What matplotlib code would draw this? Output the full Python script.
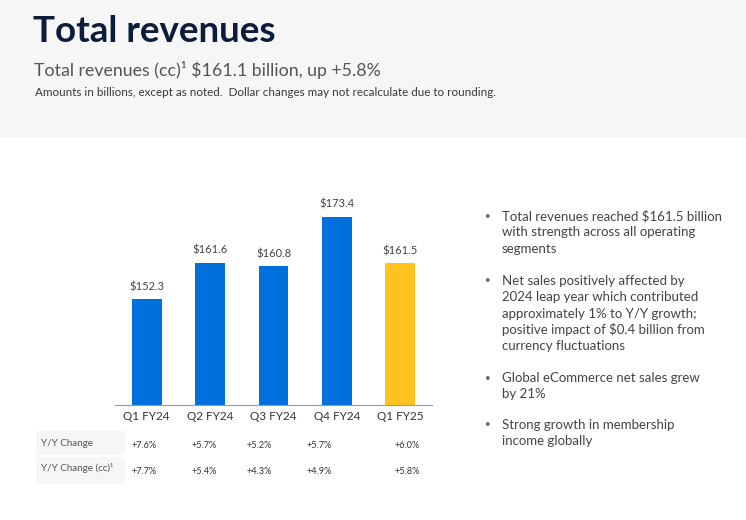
import matplotlib
matplotlib.use("Agg")
import matplotlib.pyplot as plt
from matplotlib.patches import Rectangle

plt.rcParams['font.family'] = ['Lato', 'DejaVu Sans']

categories = ["Q1 FY24", "Q2 FY24", "Q3 FY24", "Q4 FY24", "Q1 FY25"]
revenues = [152.3, 161.6, 160.8, 173.4, 161.5]
value_labels = ["$152.3", "$161.6", "$160.8", "$173.4", "$161.5"]
yy_change = ["+7.6%", "+5.7%", "+5.2%", "+5.7%", "+6.0%"]
yy_change_cc = ["+7.7%", "+5.4%", "+4.3%", "+4.9%", "+5.8%"]
row_labels = ["Y/Y Change", "Y/Y Change (cc)\u00b9"]
bullets = [
    ["Total revenues reached $161.5 billion", "with strength across all operating", "segments"],
    ["Net sales positively affected by", "2024 leap year which contributed",
     "approximately 1% to Y/Y growth;", "positive impact of $0.4 billion from", "currency fluctuations"],
    ["Global eCommerce net sales grew", "by 21%"],
    ["Strong growth in membership", "income globally"],
]

W, H = 746, 520
fig = plt.figure(figsize=(W / 100, H / 100), dpi=100)
fig.patch.set_facecolor("white")

def fx(x):
    return x / W

def fy(y):
    return 1 - y / H

# header band
fig.patches.append(Rectangle((0, fy(137)), 1, 137 / H, transform=fig.transFigure,
                             facecolor="#f6f6f6", edgecolor="none", zorder=0))

fig.text(fx(33), fy(31), "Total revenues", fontsize=26.5, fontweight="bold",
         color="#0b1c3c", va="center", ha="left")
fig.text(fx(34), fy(70), "Total revenues (cc)\u00b9 $161.1 billion, up +5.8%", fontsize=12.8,
         color="#555555", va="center", ha="left")
fig.text(fx(35), fy(93), "Amounts in billions, except as noted.  Dollar changes may not recalculate due to rounding.",
         fontsize=8.4, color="#3a3a3a", va="center", ha="left")

# bar chart
ax_left, ax_right, ax_bottom, ax_top = 115, 432, 405, 180
ax = fig.add_axes([fx(ax_left), fy(ax_bottom), (ax_right - ax_left) / W, (ax_bottom - ax_top) / H])
ax.set_facecolor("none")
colors = ["#0071dc"] * 4 + ["#ffc220"]
xs = list(range(len(categories)))
ax.bar(xs, revenues, width=0.47, color=colors, zorder=2)
ymin = 125.3
ax.set_ylim(ymin, ymin + (ax_bottom - ax_top) / 3.915)
ax.set_xlim(-0.5, 4.5)
for x, v, lab in zip(xs, revenues, value_labels):
    ax.annotate(lab, (x, v), xytext=(0, 5), textcoords="offset points", ha="center",
                va="bottom", fontsize=8, color="#444444")
for s in ["top", "right", "left"]:
    ax.spines[s].set_visible(False)
ax.spines["bottom"].set_color("#9a9a9a")
ax.spines["bottom"].set_linewidth(0.8)
ax.set_yticks([])
ax.set_xticks(xs)
ax.set_xticklabels(categories, fontsize=8.5, color="#333333")
ax.tick_params(axis="x", length=0, pad=4)

# table
fig.patches.append(Rectangle((fx(36), fy(455)), 89 / W, 24 / H, transform=fig.transFigure,
                             facecolor="#f6f6f6", edgecolor="none", zorder=0))
fig.patches.append(Rectangle((fx(36), fy(484)), 89 / W, 27 / H, transform=fig.transFigure,
                             facecolor="#f6f6f6", edgecolor="none", zorder=0))
fig.text(fx(41), fy(444), row_labels[0], fontsize=7.1, color="#555555", va="center")
fig.text(fx(41), fy(468), row_labels[1], fontsize=7.1, color="#555555", va="center")
col_x = [144, 204, 259, 319, 407]
for cx, a, b in zip(col_x, yy_change, yy_change_cc):
    fig.text(fx(cx), fy(446), a, fontsize=6.6, color="#333333", ha="center", va="center")
    fig.text(fx(cx), fy(472), b, fontsize=6.6, color="#333333", ha="center", va="center")

# bullets
line_h = 16.3
starts = [216, 281, 378, 425]
for start, lines in zip(starts, bullets):
    fig.text(fx(488), fy(start), "\u2022", fontsize=7, color="#666666", ha="center", va="center")
    for i, ln in enumerate(lines):
        fig.text(fx(502), fy(start + i * line_h), ln, fontsize=9.5, color="#444444",
                 ha="left", va="center")

fig.savefig("out.png", dpi=100)
